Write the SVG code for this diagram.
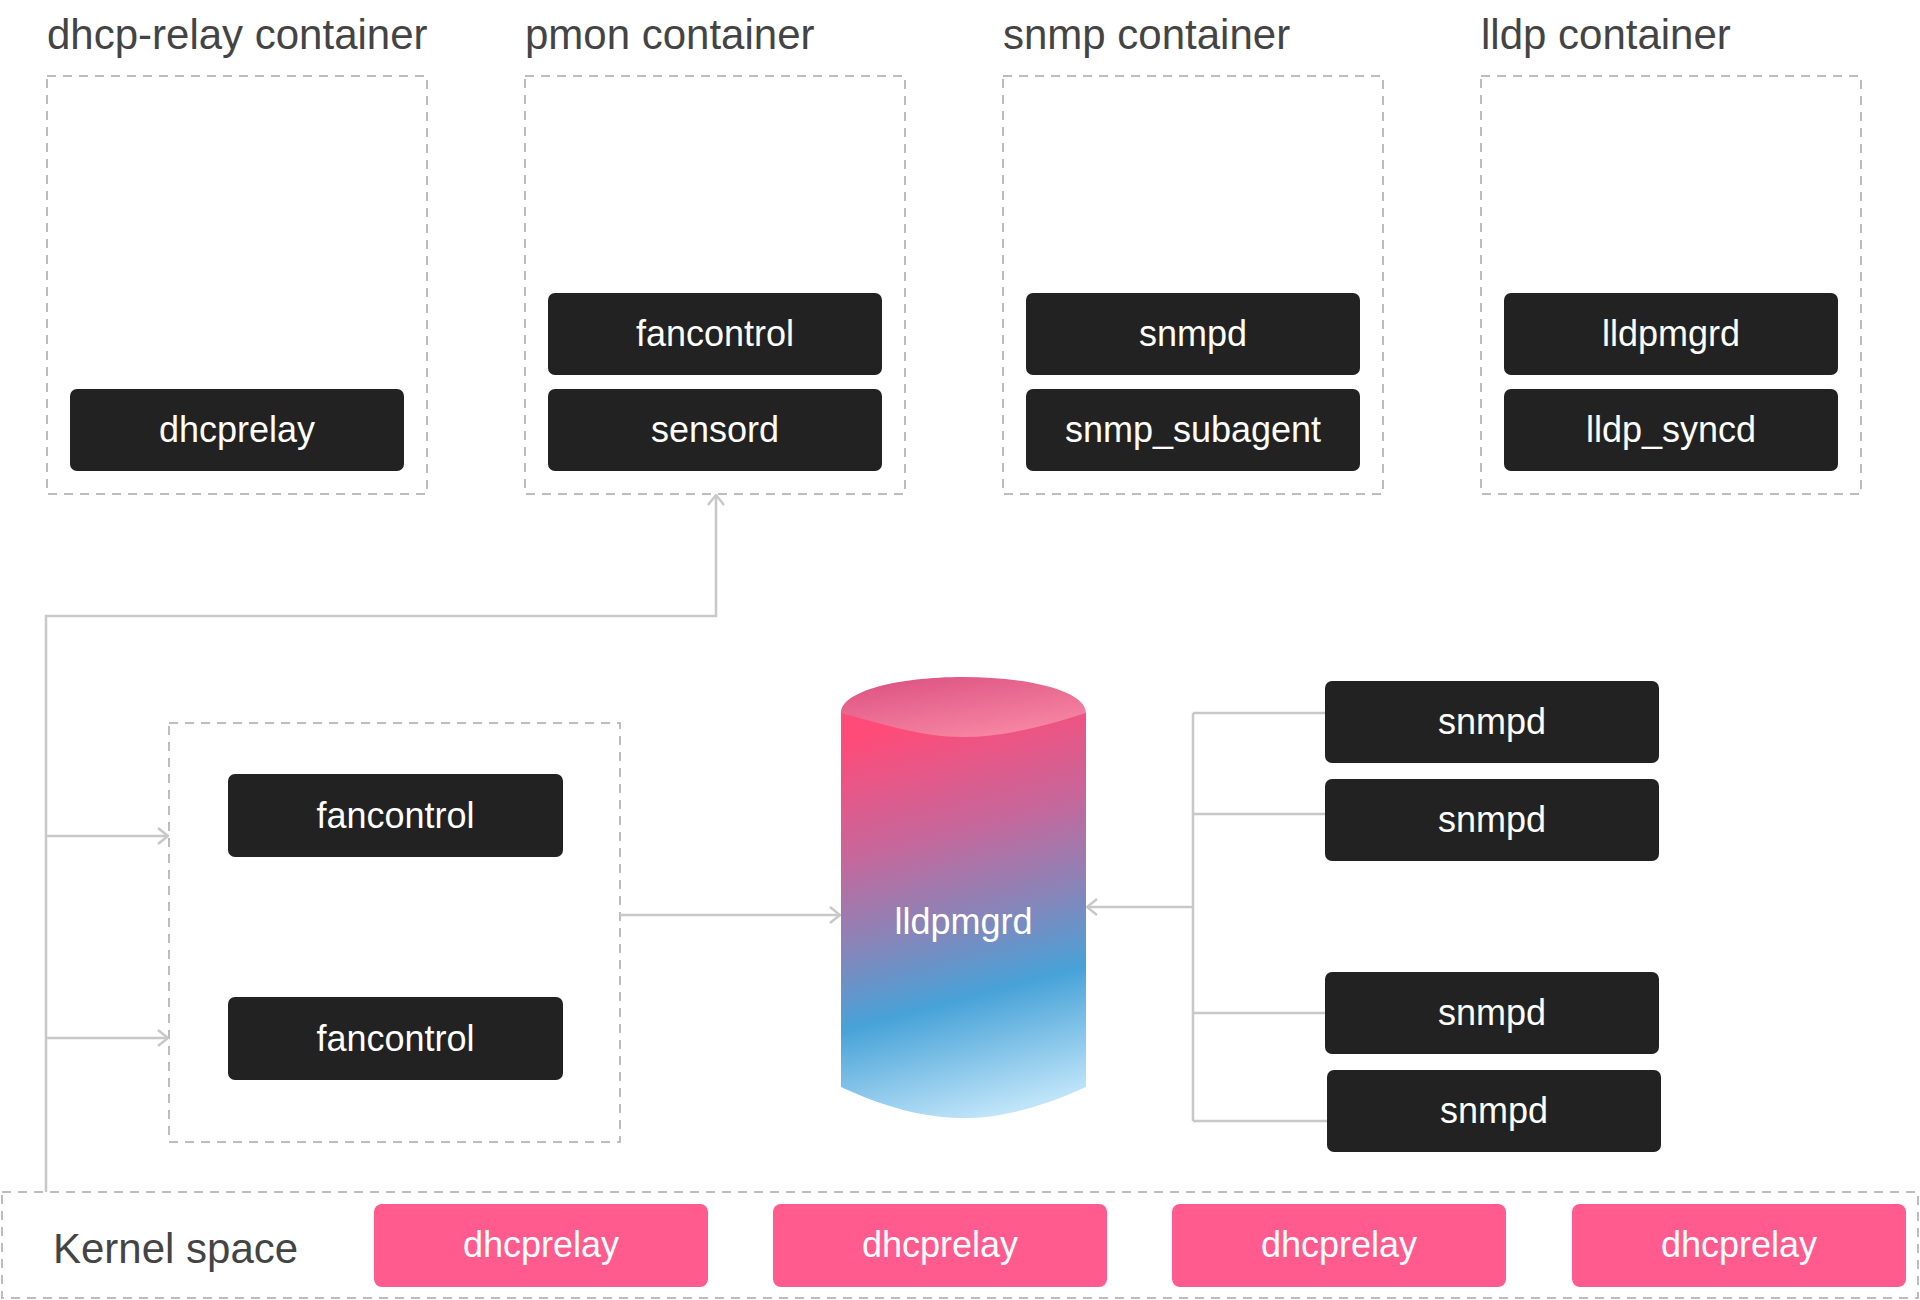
<svg xmlns="http://www.w3.org/2000/svg" width="1920" height="1300" viewBox="0 0 1920 1300">
<defs>
<style>
.title{font-family:"Liberation Sans",Arial,sans-serif;font-size:42px;fill:#444444}
.lbl{font-family:"Liberation Sans",Arial,sans-serif;font-size:36px;fill:#ffffff;text-anchor:middle}
.dash{fill:none;stroke:#bdbdbd;stroke-width:2;stroke-dasharray:9 7}
.blk{fill:#222222}
.pink{fill:#ff5b8e}
.conn{fill:none;stroke:#c8c8c8;stroke-width:2.5}
</style>
<marker id="arr" viewBox="0 0 12 18" refX="11" refY="9" markerWidth="12" markerHeight="18" markerUnits="userSpaceOnUse" orient="auto">
<path d="M1,1 L11,9 L1,17" fill="none" stroke="#c8c8c8" stroke-width="2.5"/>
</marker>
<linearGradient id="body" x1="0.42" y1="0" x2="0.58" y2="1">
<stop offset="0" stop-color="#ff4b78"/>
<stop offset="0.28" stop-color="#c8669a"/>
<stop offset="0.5" stop-color="#8a84b8"/>
<stop offset="0.7" stop-color="#47a2d8"/>
<stop offset="1" stop-color="#c0e5f9"/>
</linearGradient>
<linearGradient id="cap" x1="0.2" y1="0" x2="0.8" y2="1">
<stop offset="0" stop-color="#dd5483"/>
<stop offset="1" stop-color="#f98aa6"/>
</linearGradient>
</defs>
<rect width="1920" height="1300" fill="#ffffff"/>

<g id="dhcp-relay-container">
<text class="title" x="47" y="49">dhcp-relay container</text>
<rect class="dash" x="47" y="76" width="380" height="418"/>
<g id="dhcprelay-top"><rect class="blk" x="70" y="389" width="334" height="82" rx="7"/><text class="lbl" x="237" y="442">dhcprelay</text></g>
</g>

<g id="pmon-container">
<text class="title" x="525" y="49">pmon container</text>
<rect class="dash" x="525" y="76" width="380" height="418"/>
<g id="fancontrol-top"><rect class="blk" x="548" y="293" width="334" height="82" rx="7"/><text class="lbl" x="715" y="346">fancontrol</text></g>
<g id="sensord"><rect class="blk" x="548" y="389" width="334" height="82" rx="7"/><text class="lbl" x="715" y="442">sensord</text></g>
</g>

<g id="snmp-container">
<text class="title" x="1003" y="49">snmp container</text>
<rect class="dash" x="1003" y="76" width="380" height="418"/>
<g id="snmpd-top"><rect class="blk" x="1026" y="293" width="334" height="82" rx="7"/><text class="lbl" x="1193" y="346">snmpd</text></g>
<g id="snmp-subagent"><rect class="blk" x="1026" y="389" width="334" height="82" rx="7"/><text class="lbl" x="1193" y="442">snmp_subagent</text></g>
</g>

<g id="lldp-container">
<text class="title" x="1481" y="49">lldp container</text>
<rect class="dash" x="1481" y="76" width="380" height="418"/>
<g id="lldpmgrd-top"><rect class="blk" x="1504" y="293" width="334" height="82" rx="7"/><text class="lbl" x="1671" y="346">lldpmgrd</text></g>
<g id="lldp-syncd"><rect class="blk" x="1504" y="389" width="334" height="82" rx="7"/><text class="lbl" x="1671" y="442">lldp_syncd</text></g>
</g>

<g id="fancontrol-group">
<rect class="dash" x="169" y="723" width="451" height="419"/>
<g id="fancontrol-1"><rect class="blk" x="228" y="774" width="335" height="83" rx="7"/><text class="lbl" x="395.5" y="828">fancontrol</text></g>
<g id="fancontrol-2"><rect class="blk" x="228" y="997" width="335" height="83" rx="7"/><text class="lbl" x="395.5" y="1051">fancontrol</text></g>
</g>

<g id="lldpmgrd-db">
<path d="M841,713 L1086,713 L1086,1087 C1040,1108 1000,1118 963,1118 C926,1118 886,1108 841,1087 Z" fill="url(#body)"/>
<path d="M841,713 C841,691 898,677 963,677 C1030,677 1086,691 1086,713 C1048,725 1005,737 963,737 C920,737 880,723 841,713 Z" fill="url(#cap)"/>
<text class="lbl" x="963.5" y="934">lldpmgrd</text>
</g>

<g id="snmpd-1"><rect class="blk" x="1325" y="681" width="334" height="82" rx="7"/><text class="lbl" x="1492" y="734">snmpd</text></g>
<g id="snmpd-2"><rect class="blk" x="1325" y="779" width="334" height="82" rx="7"/><text class="lbl" x="1492" y="832">snmpd</text></g>
<g id="snmpd-3"><rect class="blk" x="1325" y="972" width="334" height="82" rx="7"/><text class="lbl" x="1492" y="1025">snmpd</text></g>
<g id="snmpd-4"><rect class="blk" x="1327" y="1070" width="334" height="82" rx="7"/><text class="lbl" x="1494" y="1123">snmpd</text></g>

<g id="kernel-space">
<rect class="dash" x="2" y="1192" width="1916" height="106"/>
<text class="title" x="53" y="1263">Kernel space</text>
<g id="k-dhcprelay-1"><rect class="pink" x="374" y="1204" width="334" height="83" rx="8"/><text class="lbl" x="541" y="1257">dhcprelay</text></g>
<g id="k-dhcprelay-2"><rect class="pink" x="773" y="1204" width="334" height="83" rx="8"/><text class="lbl" x="940" y="1257">dhcprelay</text></g>
<g id="k-dhcprelay-3"><rect class="pink" x="1172" y="1204" width="334" height="83" rx="8"/><text class="lbl" x="1339" y="1257">dhcprelay</text></g>
<g id="k-dhcprelay-4"><rect class="pink" x="1572" y="1204" width="334" height="83" rx="8"/><text class="lbl" x="1739" y="1257">dhcprelay</text></g>
</g>

<g id="connectors">
<path class="conn" d="M46,1192 L46,616 L716,616 L716,495" marker-end="url(#arr)"/>
<path class="conn" d="M46,836 L168,836" marker-end="url(#arr)"/>
<path class="conn" d="M46,1038 L168,1038" marker-end="url(#arr)"/>
<path class="conn" d="M620,915 L840,915" marker-end="url(#arr)"/>
<path class="conn" d="M1193,907 L1087,907" marker-end="url(#arr)"/>
<path class="conn" d="M1193,713 L1193,1121"/>
<path class="conn" d="M1193,713 L1325,713"/>
<path class="conn" d="M1193,814 L1325,814"/>
<path class="conn" d="M1193,1013 L1325,1013"/>
<path class="conn" d="M1193,1121 L1327,1121"/>
</g>
</svg>
